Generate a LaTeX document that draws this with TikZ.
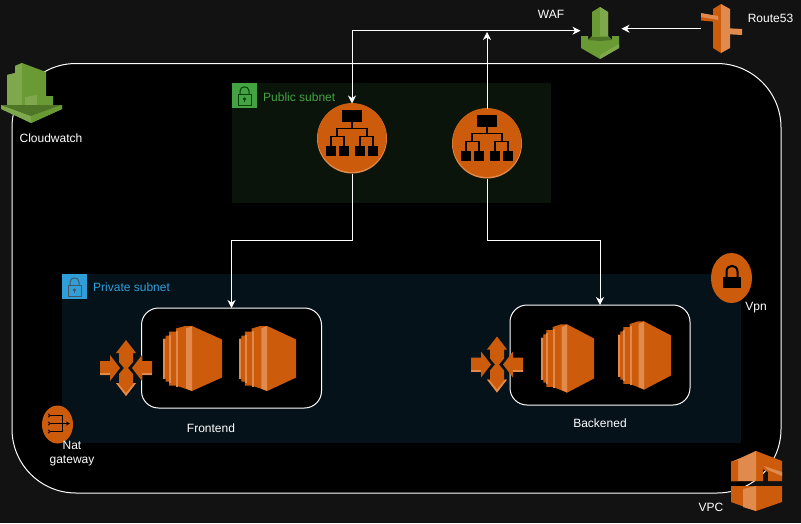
\documentclass[tikz,border=0pt]{standalone}
\usepackage{fontspec}
\setmainfont{Liberation Sans}
\usetikzlibrary{shapes.geometric}
\usetikzlibrary{positioning}
\usetikzlibrary{arrows.meta}
\definecolor{pagebg}{HTML}{121212}
\definecolor{awsorange}{HTML}{CC5C0B}
\definecolor{awslight}{HTML}{E08A4D}
\definecolor{awsgreen}{HTML}{6A9A33}
\definecolor{awsgreenlight}{HTML}{7FA84C}
\definecolor{awsgreendark}{HTML}{4F7526}
\definecolor{pubfill}{HTML}{0A140A}
\definecolor{privfill}{HTML}{06121A}
\definecolor{pubtile}{HTML}{43A343}
\definecolor{privtile}{HTML}{2F9FDA}
\tikzset{
    elbmark/.pic = {
        \fill[awsorange] (0,-1) circle[radius=34.4pt];
        \fill[black] (-10,-29) rectangle (10,-17);
        \draw[black,line width=1.2pt] (0,-17) -- (0,-10) (-15,-2) -- (-15,-10) -- (15,-10) -- (15,-2)
            (-21,7) -- (-21,-2) -- (-8,-2) -- (-8,7) (8,7) -- (8,-2) -- (21,-2) -- (21,7);
        \foreach \boxx in {-26,-13,3,16} {
            \fill[black] (\boxx,7) rectangle (\boxx+10,17);
        }
    },
    ec2mark/.pic = {
        \fill[awsorange] (0,-20) -- (2.5,-20) -- (2.5,-23) -- (6,-23) -- (6,-27) -- (13,-27) -- (13,-30) -- (22,-32.5)
            -- (29,-32.5) -- (59,-19) -- (59,19) -- (29,32.5) -- (22,30) -- (13,27) -- (6,27) -- (6,23) -- (2.5,23) -- (2.5,20) -- (0,20) -- cycle;
        \fill[awslight] (0,-20) rectangle (2,20);
        \fill[awslight] (6,-24) rectangle (8,24);
        \fill[awslight] (13,-28) rectangle (15,28);
        \fill[awslight] (23,-30) -- (29,-32.5) -- (29,32.5) -- (23,30) -- cycle;
    },
    scalemark/.pic = {
        \fill[awsorange] (0,-28) -- (10,-15) -- (7,-15) -- (7,-6) -- (2,0) -- (7,6) -- (7,15) -- (10,15) -- (0,28) -- (-10,15) -- (-7,15) -- (-7,6) -- (-2,0) -- (-7,-6) -- (-7,-15) -- (-10,-15) -- cycle;
        \fill[awsorange] (-26,-7) -- (-16,-7) -- (-16,-13) -- (-6,0) -- (-16,13) -- (-16,7) -- (-26,7) -- cycle;
        \fill[awsorange] (26,-7) -- (16,-7) -- (16,-13) -- (6,0) -- (16,13) -- (16,7) -- (26,7) -- cycle;
        \fill[awslight] (-26,5) rectangle (-16,7);
        \fill[awslight] (26,5) rectangle (16,7);
        \fill[awslight] (-10,15) -- (0,28) -- (10,15) -- (8,15) -- (0,25) -- (-8,15) -- cycle;
    },
    lockmark/.pic = {
        \draw[pic actions,fill=none,line width=1pt] (6,11) rectangle (19,22);
        \draw[pic actions,fill=none,line width=1pt] (8,11) -- (8,8) .. controls (8,2.5) and (17,2.5) .. (17,8) -- (17,11);
        \fill[pic actions] (12.5,16) circle[radius=1.3pt];
        \draw[pic actions,line width=.8pt] (12.5,16) -- (12.5,19);
    }
}
\begin{document}
\begin{tikzpicture}[x=1pt,y=-1pt,
    wire/.style = {draw=white,line width=1pt},
    tip/.tip = {Stealth[length=8pt,width=8pt,inset=2.5pt]},
    label/.style = {text=white,font=\fontsize{12}{14}\selectfont,inner sep=0pt,align=center},
    lanlabel/.style = {font=\fontsize{12}{14}\selectfont,inner sep=0pt,anchor=west},
    hidden/.style = {inner sep=0pt,outer sep=0pt},
    elbdisc/.style = {circle,fill=awslight,minimum size=70pt,inner sep=0pt,outer sep=0pt},
    group/.style = {draw=white,line width=1pt,fill=black,rounded corners=17pt,inner sep=0pt,outer sep=0pt,minimum width=180pt,minimum height=100pt},
    badge/.style = {ellipse,fill=awsorange,inner sep=0pt,outer sep=0pt}]
    \useasboundingbox (0,0) rectangle (801,523);
    \fill[pagebg] (0,0) rectangle (801,523);
    \draw[white,line width=1pt,fill=black,rounded corners=64pt] (12,63.5) rectangle (781,493);
    % subnets
    \fill[pubfill] (232,83) rectangle (551,203);
    \fill[privfill] (62,274) rectangle (741,443);
    \fill[pubtile] (232,83) rectangle (257,108);
    \pic[draw=green!25!black,fill=green!25!black] at (232,83) {lockmark};
    \fill[privtile] (62,274) rectangle (87,299);
    \pic[draw=cyan!30!black,fill=cyan!30!black] at (62,274) {lockmark};
    \node[lanlabel,text=pubtile] (publab) at (263,97) {Public subnet};
    \node[lanlabel,text=privtile] (privlab) at (93,287) {Private subnet};
    % groups
    \node[group] (frontend) at (231.5,358) {};
    \node[group] (backend) at (600,355) {};
    \node[label] (frontlab) at (211,428) {Frontend};
    \node[label] (backlab) at (600,423) {Backened};
    \pic at (163,358.5) {ec2mark};
    \pic[xscale=.97] at (239,358.5) {ec2mark};
    \pic[xscale=.9,yscale=1.05] at (541,358.5) {ec2mark};
    \pic[xscale=.9,yscale=1.05] at (618,355.5) {ec2mark};
    \pic at (126,368) {scalemark};
    \pic at (497,364.5) {scalemark};
    % load balancers
    \node[elbdisc] (albpublic) at (352,138.5) {};
    \pic at (albpublic) {elbmark};
    \node[elbdisc] (albback) at (487,143.5) {};
    \pic at (albback) {elbmark};
    % waf
    \node[hidden,minimum width=41pt,minimum height=46pt] (waf) at (601,30.7) {};
    \fill[awsgreen] (592,12) -- (600,7) -- (608,12) -- (608,36) -- (612,40) -- (612,36) -- (619,36) -- (619,48) -- (600,59) -- (581,48) -- (581,36) -- (588,36) -- (588,40) -- (592,36) -- cycle;
    \fill[awsgreenlight] (600,7) -- (608,12) -- (608,36) -- (600,36) -- cycle;
    \fill[awsgreendark] (588,40) -- (592,37) -- (608,37) -- (612,40) -- (600,41) -- cycle;
    \fill[awsgreenlight] (600,59) -- (619,48) -- (619,44) -- (600,55) -- cycle;
    \node[label] (waflab) at (551,14) {WAF};
    % route53
    \node[hidden,minimum width=41pt,minimum height=49pt] (routefs) at (721.5,28.7) {};
    \fill[awsorange] (713,9) -- (721,4) -- (721,53) -- (713,48) -- cycle;
    \fill[awslight] (721,4) -- (730,9) -- (730,48) -- (721,53) -- cycle;
    \fill[awslight] (701,13) -- (718,16) -- (718,22) -- (701,19) -- cycle;
    \fill[awsorange] (701,17) -- (718,20) -- (718,22) -- (701,20.5) -- cycle;
    \fill[awslight] (724,28) -- (742,29) -- (742,35) -- (724,34) -- cycle;
    \node[label] (routelab) at (770.5,18) {Route53};
    % cloudwatch
    \fill[awsgreen] (7,75) -- (15,73) -- (15,66) -- (22,63) -- (46,72) -- (46,96) -- (53,96) -- (53,105) -- (7,105) -- cycle;
    \fill[awsgreenlight] (7,75) -- (15,73) -- (15,105) -- (7,105) -- cycle;
    \fill[awsgreenlight] (15,66) -- (22,63) -- (22,105) -- (15,105) -- cycle;
    \fill[awsgreenlight] (25,97) -- (37,95) -- (37,105) -- (25,105) -- cycle;
    \fill[awsgreendark] (1,105) -- (62,105) -- (31,116) -- cycle;
    \fill[awsgreenlight] (1,105) -- (31,116) -- (62,105) -- (62,109) -- (31,123) -- (1,109) -- cycle;
    \fill[awsgreen] (31,116) -- (62,105) -- (62,109) -- (31,123) -- cycle;
    \node[label] (watchlab) at (51,138) {Cloudwatch};
    % vpn
    \node[badge,minimum width=41pt,minimum height=50pt] (vpn) at (731.5,278) {};
    \fill[black] (723,277) rectangle (741,288);
    \draw[black,line width=2pt] (726.5,277) -- (726.5,271.5) .. controls (726.5,264) and (737.5,264) .. (737.5,271.5) -- (737.5,277);
    \node[label] (vpnlab) at (756,308) {Vpn};
    % nat
    \node[badge,minimum width=31pt,minimum height=38pt] (nat) at (57.5,424.5) {};
    \draw[black,line width=1pt,{Stealth[length=3pt,width=4pt,reversed]}-{Stealth[length=4pt,width=4pt]}] (48,423.5) -- (70,423.5);
    \draw[black,line width=1pt,{Stealth[length=3pt,width=4pt,reversed]}-] (48,415.5) -- (62.5,415.5) -- (62.5,423.5);
    \draw[black,line width=1pt,{Stealth[length=3pt,width=4pt,reversed]}-] (48,431.5) -- (62.5,431.5) -- (62.5,423.5);
    \node[label] (natlab) at (72,453.5) {Nat\\gateway};
    % vpc
    \fill[awsorange] (731,462) -- (743,457) -- (756,451) -- (782,461) -- (782,481) -- (768,481) -- (768,472) -- (763,469) -- (763,481) -- (731,481) -- cycle;
    \fill[awslight] (731,462) -- (743,457) -- (756,451) -- (756,481) -- (731,481) -- cycle;
    \fill[awsorange] (731,462) -- (738,460) -- (738,481) -- (731,481) -- cycle;
    \fill[awslight] (764,466) -- (782,472) -- (782,476) -- (768,470) -- cycle;
    \fill[awsorange] (731,486) -- (756,486) -- (782,486) -- (782,502) -- (756,511) -- (731,502) -- cycle;
    \fill[awslight] (743,489) -- (756,486) -- (756,511) -- (743,507) -- cycle;
    \node[label] (vpclab) at (711,507) {VPC};
    % connectors
    \draw[wire,{tip}-{tip}] (waf.west) -| (albpublic.north);
    \coordinate (wafjoin) at (487,32);
    \draw[wire,-{tip}] (albback.north) -- (wafjoin);
    \draw[wire,-{tip}] (routefs.west) -- (routefs.west -| waf.east);
    \draw[wire,-{tip}] (albpublic.south) -- ++(0,67) -| (frontend.north);
    \draw[wire,-{tip}] (albback.south) -- ++(0,62) -| (backend.north);
\end{tikzpicture}
\end{document}
